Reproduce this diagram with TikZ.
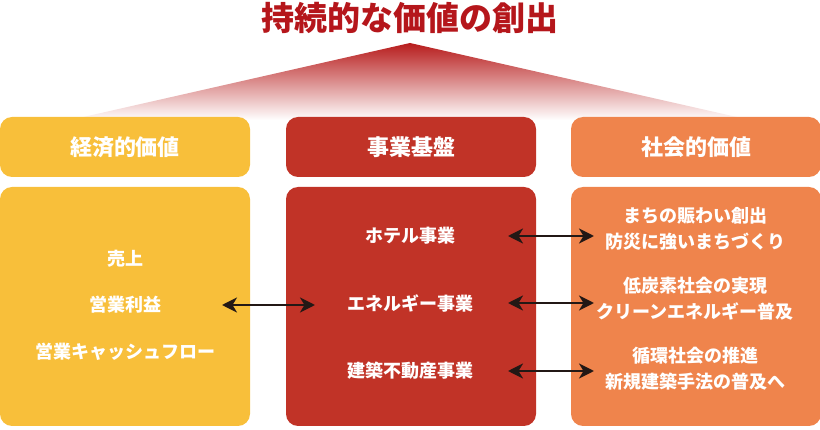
\documentclass[tikz,border=0pt]{standalone}
\usepackage{fontspec}
\setmainfont{Noto Sans CJK JP}[BoldFont={Noto Sans CJK JP Black}]
\usetikzlibrary{arrows.meta,calc}
\definecolor{cyel}{HTML}{F8BF3A}
\definecolor{cred}{HTML}{C13327}
\definecolor{corg}{HTML}{EF844C}
\definecolor{ctitle}{HTML}{B5161B}
\definecolor{croof}{HTML}{B71C1C}
\definecolor{croofmid}{HTML}{CE6446}
\definecolor{carrow}{HTML}{231815}
\tikzset{
  box/.style={rounded corners=12pt, minimum width=250pt, anchor=north west, outer sep=0pt, inner sep=0pt, draw=none},
  hbox/.style={box, minimum height=60pt, text=white, font=\bfseries\fontsize{22}{24}\selectfont},
  bbox/.style={box, minimum height=239pt},
  txt/.style={text=white, align=center, inner sep=0pt, font=\bfseries\fontsize{18}{26}\selectfont},
  tip/.style={Stealth[length=15pt,width=15pt,inset=4.5pt]},
  dar/.style={{Stealth[length=15pt,width=15pt,inset=4.5pt]}-{Stealth[length=15pt,width=15pt,inset=4.5pt]}, line width=2.6pt, draw=carrow}
}
\begin{document}
\begin{tikzpicture}[x=1pt,y=-1pt]
\useasboundingbox (0,0) rectangle (820,430);
\node[text=ctitle, font=\bfseries\fontsize{33}{35}\selectfont, inner sep=0pt] (title) at (410,18) {持続的な価値の創出};
\shade[top color=croof, middle color=croofmid, bottom color=white] (410,43) -- (750,120) -- (70,120) -- cycle;
\node[hbox, fill=cyel] (Lh) at (0,117) {経済的価値};
\node[hbox, fill=cred] (Mh) at (286,117) {事業基盤};
\node[hbox, fill=corg] (Rh) at (571,117) {社会的価値};
\node[bbox, fill=cyel] (Lb) at (0,187) {};
\node[bbox, fill=cred] (Mb) at (286,187) {};
\node[bbox, fill=corg] (Rb) at (571,187) {};
\node[txt] (l1) at (125,259) {売上};
\node[txt] (l2) at (125,305) {営業利益};
\node[txt] (l3) at (125,352) {営業キャッシュフロー};
\node[txt] (m1) at (410,236) {ホテル事業};
\node[txt] (m2) at (410,303) {エネルギー事業};
\node[txt] (m3) at (410,371) {建築不動産事業};
\node[txt] (r1) at (695,229) {まちの賑わい創出\\防災に強いまちづくり};
\node[txt] (r2) at (695,299) {低炭素社会の実現\\クリーンエネルギー普及};
\node[txt] (r3) at (695,369) {循環社会の推進\\新規建築手法の普及へ};
\draw[dar] ([xshift=-28pt]Lb.east |- l2.center) -- ([xshift=29pt]Mb.west |- l2.center);
\draw[dar] ([xshift=-28pt]Mb.east |- m1.center) -- ([xshift=23pt]Rb.west |- m1.center);
\draw[dar] ([xshift=-28pt]Mb.east |- m2.center) -- ([xshift=23pt]Rb.west |- m2.center);
\draw[dar] ([xshift=-28pt]Mb.east |- m3.center) -- ([xshift=23pt]Rb.west |- m3.center);
\end{tikzpicture}
\end{document}
